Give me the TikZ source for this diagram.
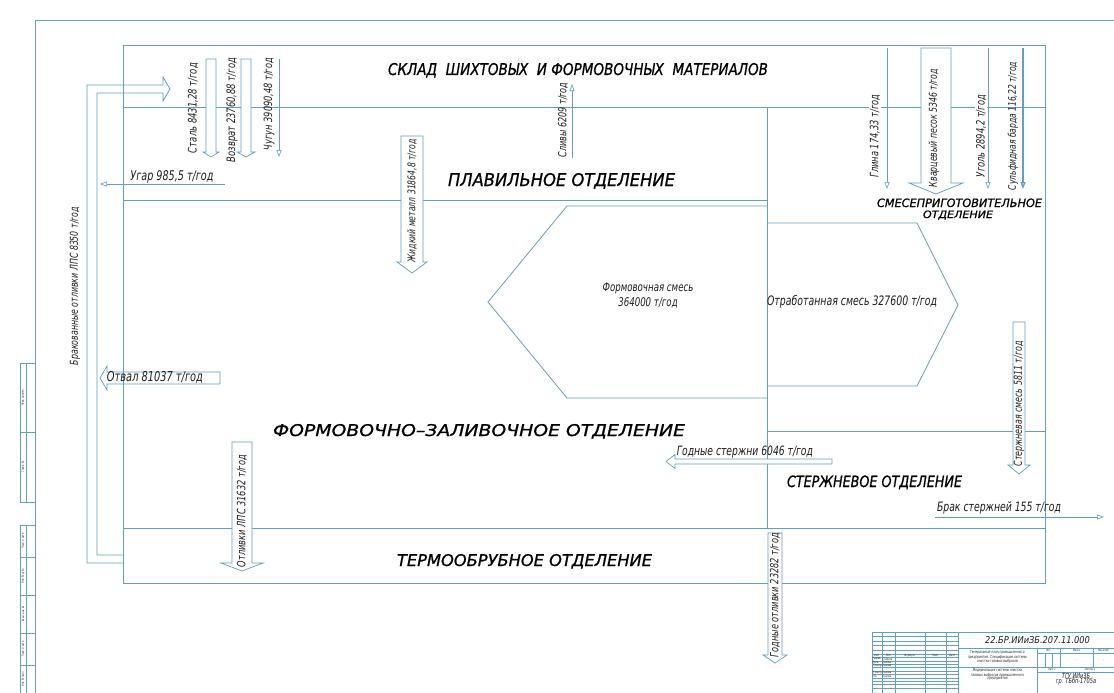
\documentclass[tikz,border=0pt]{standalone}
\usepackage{fontspec}
\usepackage{graphicx}
\setmainfont{DejaVu Sans}
\newfontfamily\gost{DejaVu Sans}[FakeStretch=0.72]
\newfontfamily\gosth{DejaVu Sans}[FakeBold=0.9]
\usetikzlibrary{arrows.meta}
\definecolor{lb}{RGB}{95,160,195}
\definecolor{ink}{RGB}{30,30,30}
\newcommand{\hdown}[6]{\draw[harrow] (#1-#5,#2) -- (#1+#5,#2) -- (#1+#5,#3) -- (#1+#6,#3) -- (#1,#4) -- (#1-#6,#3) -- (#1-#5,#3) -- cycle;}
\newcommand{\hleft}[6]{\draw[harrow] (#2,#1-#5) -- (#2,#1+#5) -- (#3,#1+#5) -- (#3,#1+#6) -- (#4,#1) -- (#3,#1-#6) -- (#3,#1-#5) -- cycle;}
\newcommand{\fitw}[2]{\resizebox{#1pt}{!}{\gost\itshape #2}}
\newcommand{\fitwh}[3]{\resizebox{#1pt}{#2pt}{\gost\itshape #3}}
\newcommand{\fithd}[3]{\resizebox{#1pt}{#2pt}{\gosth\itshape #3}}
\begin{document}
\begin{tikzpicture}[x=1pt,y=-1pt,
  wall/.style={draw=lb,line width=0.8pt},
  harrow/.style={draw=lb,line width=0.7pt,fill=white},
  tipline/.style={draw=lb,line width=0.6pt,-{Triangle[open,length=7pt,width=5pt]}},
  lbl/.style={inner sep=0pt,text=ink},
  rlbl/.style={lbl,rotate=90},
  hd/.style={inner sep=0pt,text=black,anchor=base},
  tb/.style={draw=lb,line width=0.4pt},
  tbt/.style={inner sep=0pt,text=ink,font=\gost\itshape\fontsize{3}{3.5}\selectfont},
  tbm/.style={inner sep=0pt,text=ink,align=center,font=\gost\itshape\fontsize{4}{3.6}\selectfont}
]
\useasboundingbox (0,0) rectangle (1114,693);
\fill[white] (0,0) rectangle (1114,693);

% drawing frame
\draw[wall] (35,693) -- (35,20) -- (1114,20);

% building walls
\draw[wall] (123,45) rectangle (1045,583);
\draw[wall] (123,107) -- (1045,107);
\draw[wall] (123,200) -- (767,200);
\draw[wall] (767,107) -- (767,528);
\draw[wall] (123,528) -- (1045,528);
\draw[wall] (767,431) -- (1045,431);

% mixture pentagons
\draw[wall] (767,206) -- (567,206) -- (488,302) -- (567,398) -- (767,398);
\draw[wall] (767,223) -- (917,223) -- (958,305) -- (917,386) -- (767,386);

% rejected castings return (double line arrow)
\draw[wall] (123,563) -- (87,563) -- (87,85) -- (163,85) -- (163,77) -- (170,89) -- (163,101) -- (163,93) -- (97,93) -- (97,555) -- (123,555);

% thin arrows
\draw[tipline] (225,184) -- (100,184);
\draw[tipline] (279,59) -- (279,157);
\draw[tipline] (572,158) -- (572,84);
\draw[tipline] (887,48) -- (887,189);
\draw[tipline] (988,48) -- (988,189);
\draw[tipline,line width=1.3pt] (1023,48) -- (1023,189);
\draw[tipline] (935,517) -- (1104,517);

% hollow wide arrows
\hdown{211}{59}{152}{157}{5}{8}
\hdown{246}{59}{152}{157}{5}{9}
\hdown{412}{136}{262}{273}{11}{15}
\hdown{936}{48}{183}{194}{15}{27}
\hdown{1019}{322}{465}{474}{6}{11}
\hdown{242}{442}{563}{571}{10}{21}
\hdown{775}{533}{655}{663}{7}{12}
\hleft{461.5}{832}{675}{666}{2.5}{7}
\draw[draw=lb,line width=0.7pt] (220,372) -- (220,384) -- (107,384) -- (107,390) -- (100,378) -- (107,366) -- (107,372) -- cycle;

% flow labels
\node[rlbl] (stal) at (193,108) {\fitw{90}{Сталь 8431,28 т/год}};
\node[rlbl] (vozv) at (232,110) {\fitw{104}{Возврат 23760,88 т/год}};
\node[rlbl] (chug) at (269,104) {\fitw{92}{Чугун 39090,48 т/год}};
\node[lbl] (ugar) at (172,177) {\fitw{83}{Угар 985,5 т/год}};
\node[rlbl] (zhid) at (412,201) {\fitw{123}{Жидкий металл 31864,8 т/год}};
\node[rlbl] (sliv) at (563,120) {\fitw{75}{Сливы 6209 т/год}};
\node[rlbl,fill=white,inner sep=1pt] (glina) at (875,136) {\fitw{83}{Глина 174,33 т/год}};
\node[rlbl] (kvarc) at (934,128) {\fitw{118}{Кварцевый песок 5346 т/год}};
\node[rlbl,fill=white,inner sep=1pt] (ugol) at (981,136) {\fitw{82}{Уголь 2894,2 т/год}};
\node[rlbl] (sulf) at (1013,126) {\fitw{128}{Сульфидная барда 116,22 т/год}};
\node[rlbl] (sterzh) at (1019,404) {\fitw{125}{Стержневая смесь 5811 т/год}};
\node[lbl] (godst) at (745,452) {\fitw{136}{Годные стержни 6046 т/год}};
\node[lbl] (brst) at (999,508) {\fitw{124}{Брак стержней 155 т/год}};
\node[rlbl] (otl) at (242,511) {\fitw{112}{Отливки ЛПС 31632 т/год}};
\node[rlbl] (godotl) at (775,595) {\fitw{124}{Годные отливки 23282 т/год}};
\node[rlbl] (brak) at (75,286) {\fitw{158}{Бракованные отливки ЛПС 8350 т/год}};
\node[lbl] (otval) at (155,377) {\fitw{96}{Отвал 81037 т/год}};
\node[lbl,align=center,font=\gost\itshape\fontsize{12}{15}\selectfont] (form) at (648,295) {Формовочная смесь\\364000 т/год};
\node[lbl] (otrab) at (852,302) {\fitw{170}{Отработанная смесь 327600 т/год}};

% department headings
\node[hd] (sklad) at (578,75) {\fithd{380}{12}{СКЛАД\ \ ШИХТОВЫХ\ \ И ФОРМОВОЧНЫХ\ \ МАТЕРИАЛОВ}};
\node[hd] (plav) at (561.5,186) {\fithd{227}{13}{ПЛАВИЛЬНОЕ ОТДЕЛЕНИЕ}};
\node[hd] (smes1) at (959.5,207) {\fithd{165}{8.5}{СМЕСЕПРИГОТОВИТЕЛЬНОЕ}};
\node[hd] (smes2) at (958,218) {\fithd{70}{7.5}{ОТДЕЛЕНИЕ}};
\node[hd] (formz) at (479,436) {\fithd{412}{12}{ФОРМОВОЧНО–ЗАЛИВОЧНОЕ ОТДЕЛЕНИЕ}};
\node[hd] (term) at (524.5,566) {\fithd{255}{12}{ТЕРМООБРУБНОЕ ОТДЕЛЕНИЕ}};
\node[hd] (sterzhotd) at (874.5,487) {\fithd{175}{11.5}{СТЕРЖНЕВОЕ ОТДЕЛЕНИЕ}};

% left margin strip
\draw[tb] (20,363) rectangle (35,502);
\draw[tb] (20,432) -- (35,432);
\draw[tb] (26,363) -- (26,502);
\draw[tb] (20,525) rectangle (35,693);
\foreach \yy in {557,595,633,665} \draw[tb] (20,\yy) -- (35,\yy);
\draw[tb] (26,525) -- (26,693);
\node[tbt,rotate=90] (m1) at (23,397.5) {Перв. примен.};
\node[tbt,rotate=90] (m2) at (23,467) {Справ. №};
\node[tbt,rotate=90] (m3) at (23,541) {Подп. и дата};
\node[tbt,rotate=90] (m4) at (23,576) {Инв. № дубл.};
\node[tbt,rotate=90] (m5) at (23,614) {Взам. инв. №};
\node[tbt,rotate=90] (m6) at (23,649) {Подп. и дата};
\node[tbt,rotate=90] (m7) at (23,679) {Инв. № подл.};

% title block
\draw[tb] (872,632) rectangle (1114,693);
\foreach \xx in {882,895,925,946} \draw[tb] (\xx,632) -- (\xx,693);
\draw[tb] (958,632) -- (958,693);
\foreach \yy in {636.5,641,645.5,650,654,657.4,660.8,664.2,667.6,671,674.4,677.8,681.2,684.6,688} \draw[tb] (872,\yy) -- (958,\yy);
\draw[tb,line width=0.6pt] (872,657.4) -- (958,657.4);
\draw[tb] (958,648) -- (1114,648);
\draw[tb] (1037,648) -- (1037,693);
\draw[tb] (1037,653) -- (1114,653);
\draw[tb] (1060,648) -- (1060,667);
\draw[tb] (1093,648) -- (1093,667);
\draw[tb] (1044.7,653) -- (1044.7,667);
\draw[tb] (1052.3,653) -- (1052.3,667);
\draw[tb] (958,667) -- (1114,667);
\draw[tb] (1037,672) -- (1114,672);

\node[lbl] (code) at (1037.5,640) {\fitwh{105}{7}{22.БР.ИИиЗБ.207.11.000}};
\node[tbt] (h1) at (877,655.7) {Изм.};
\node[tbt] (h2) at (888.5,655.7) {Лист};
\node[tbt] (h3) at (910,655.7) {№ докум.};
\node[tbt] (h4) at (935.5,655.7) {Подп.};
\node[tbt] (h5) at (952,655.7) {Дата};
\node[tbt,anchor=west] (r1) at (872.5,659.1) {Разраб.};
\node[tbt,anchor=west] (n1) at (882.5,659.1) {Слайков};
\node[tbt,anchor=west] (r2) at (872.5,662.5) {Пров.};
\node[tbt,anchor=west] (n2) at (882.5,662.5) {Пыхова};
\node[tbt,anchor=west] (r3) at (872.5,665.9) {Т.контр.};
\node[tbt,anchor=west] (n3) at (882.5,665.9) {Пыхова};
\node[tbt,anchor=west] (r4) at (872.5,672.7) {Н.контр.};
\node[tbt,anchor=west] (n4) at (882.5,672.7) {Пыхова};
\node[tbt,anchor=west] (r5) at (872.5,676.1) {Утв.};
\node[tbt,anchor=west] (n5) at (882.5,676.1) {Пыхова};
\node[tbm] (doc1) at (997.5,657) {Генеральный план промышленного\\предприятия. Спецификация системы\\очистки газовых выбросов};
\node[tbm] (doc2) at (997.5,674.5) {Модернизация системы очистки\\газовых выбросов промышленного\\предприятия};
\node[tbt] (lit) at (1048.5,650.5) {Лит.};
\node[tbt] (mass) at (1076.5,650.5) {Масса};
\node[tbt] (msht) at (1103.5,650.5) {Масштаб};
\node[tbt] (d1) at (1076.5,660) {–};
\node[tbt] (d2) at (1103.5,660) {–};
\node[tbt] (list) at (1052,669.5) {Лист 1};
\node[tbt] (lists) at (1090,669.5) {Листов 1};
\node[lbl,font=\gost\itshape\fontsize{7}{7}\selectfont] (tgu) at (1076,676) {ТГУ ИИиЗБ};
\node[lbl,font=\gost\itshape\fontsize{7}{7}\selectfont] (grp) at (1076,682) {гр. ТБбп-1705а};
\end{tikzpicture}
\end{document}
